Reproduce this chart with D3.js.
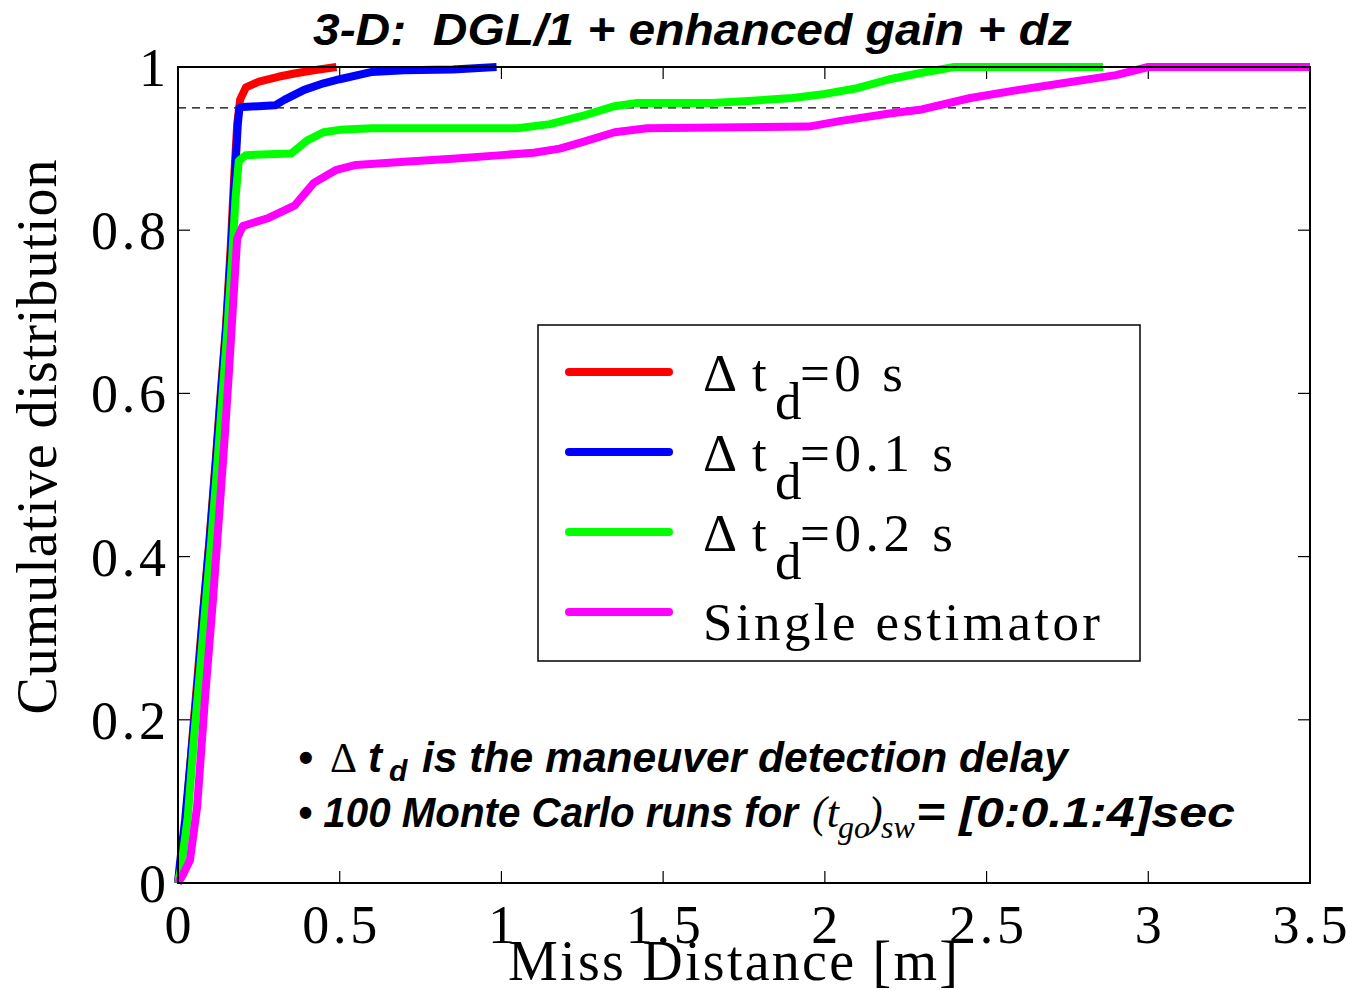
<!DOCTYPE html>
<html>
<head>
<meta charset="utf-8">
<script src="https://cdn.jsdelivr.net/npm/d3@7"></script>
<style>
  html, body { margin: 0; padding: 0; background: #fff; }
  svg { display: block; }
</style>
</head>
<body>
<div id="chart"></div>
<script>
// CDF curves: [miss distance (m), cumulative fraction]
var redData = [[0,0],[0.01,0.03],[0.025,0.08],[0.045,0.18],[0.062,0.26],[0.077,0.33],[0.097,0.42],[0.117,0.52],[0.132,0.6],[0.148,0.68],[0.163,0.78],[0.173,0.86],[0.183,0.93],[0.192,0.96],[0.21,0.975],[0.25,0.982],[0.31,0.988],[0.36,0.992],[0.42,0.996],[0.49,1]];
var blueData = [[0,0],[0.006,0.024],[0.022,0.077],[0.046,0.18],[0.062,0.25],[0.077,0.326],[0.098,0.42],[0.118,0.52],[0.133,0.6],[0.149,0.68],[0.165,0.78],[0.175,0.86],[0.185,0.93],[0.19,0.95],[0.2,0.951],[0.3,0.953],[0.33,0.96],[0.39,0.972],[0.45,0.98],[0.5,0.985],[0.6,0.994],[0.7,0.996],[0.85,0.997],[0.985,1]];
var greenData = [[0,0],[0.01,0.02],[0.03,0.08],[0.05,0.18],[0.068,0.26],[0.083,0.33],[0.103,0.42],[0.123,0.52],[0.138,0.6],[0.153,0.68],[0.168,0.77],[0.178,0.84],[0.188,0.885],[0.21,0.892],[0.35,0.894],[0.4,0.91],[0.45,0.92],[0.5,0.923],[0.6,0.925],[1.05,0.925],[1.15,0.93],[1.25,0.94],[1.35,0.952],[1.42,0.956],[1.65,0.956],[1.75,0.958],[1.9,0.962],[2.0,0.967],[2.1,0.974],[2.2,0.985],[2.3,0.993],[2.4,1],[2.86,1]];
var magentaData = [[0,0],[0.015,0.01],[0.037,0.028],[0.059,0.093],[0.083,0.224],[0.108,0.347],[0.127,0.45],[0.145,0.55],[0.158,0.63],[0.172,0.72],[0.183,0.79],[0.2,0.805],[0.28,0.815],[0.36,0.83],[0.42,0.858],[0.49,0.874],[0.55,0.88],[0.7,0.884],[0.86,0.888],[1.0,0.892],[1.1,0.895],[1.18,0.9],[1.25,0.908],[1.35,0.92],[1.45,0.925],[1.95,0.927],[2.05,0.934],[2.2,0.943],[2.3,0.948],[2.45,0.962],[2.6,0.972],[2.75,0.981],[2.9,0.99],[3.0,1],[3.5,1]];

var xTicks = [0, 0.5, 1, 1.5, 2, 2.5, 3, 3.5];
var xTickLabels = ['0', '0.5', '1', '1.5', '2', '2.5', '3', '3.5'];
var yTicks = [0, 0.2, 0.4, 0.6, 0.8, 1];
var yTickLabels = ['0', '0.2', '0.4', '0.6', '0.8', '1'];
var threshold = 0.95;

var series = [
  {name: '0',   data: redData,     color: '#ff0000'},
  {name: '0.1', data: blueData,    color: '#0000ff'},
  {name: '0.2', data: greenData,   color: '#00ff00'},
  {name: null,  data: magentaData, color: '#ff00ff'}
];

var W = 1347, H = 990;
var m = {left: 178, right: 1310, top: 67, bottom: 883};
var serif = '"Liberation Serif","Times New Roman",serif';
var sans = '"Liberation Sans",Arial,sans-serif';

var svg = d3.select('#chart').append('svg').attr('width', W).attr('height', H);

var x = d3.scaleLinear().domain([0, 3.5]).range([m.left, m.right]);
var y = d3.scaleLinear().domain([0, 1]).range([m.bottom, m.top]);

// dashed 95% line
svg.append('line')
    .attr('x1', x(0)).attr('x2', x(3.5)).attr('y1', y(threshold)).attr('y2', y(threshold))
    .attr('stroke', '#000').attr('stroke-width', 1.2).attr('stroke-dasharray', '8,6');

// ticks (inward on all sides, matlab box)
var tickLen = 12;
var axG = svg.append('g').attr('stroke', '#000').attr('stroke-width', 1.2);
xTicks.forEach(function(t){
    axG.append('line').attr('x1', x(t)).attr('x2', x(t)).attr('y1', m.bottom).attr('y2', m.bottom - tickLen);
    axG.append('line').attr('x1', x(t)).attr('x2', x(t)).attr('y1', m.top).attr('y2', m.top + tickLen);
});
yTicks.forEach(function(t){
    axG.append('line').attr('x1', m.left).attr('x2', m.left + tickLen).attr('y1', y(t)).attr('y2', y(t));
    axG.append('line').attr('x1', m.right).attr('x2', m.right - tickLen).attr('y1', y(t)).attr('y2', y(t));
});

// curves
var line = d3.line().x(function(d){ return x(d[0]); }).y(function(d){ return y(d[1]); });
svg.append('g').selectAll('path').data(series).join('path')
    .attr('d', function(d){ return line(d.data); })
    .attr('fill', 'none').attr('stroke', function(d){ return d.color; })
    .attr('stroke-width', 8).attr('stroke-linejoin', 'round').attr('stroke-linecap', 'butt');

// box
svg.append('rect').attr('x', m.left).attr('y', m.top)
    .attr('width', m.right - m.left).attr('height', m.bottom - m.top)
    .attr('fill', 'none').attr('stroke', '#000').attr('stroke-width', 2);

// tick labels (wide-spaced serif like the source export)
svg.append('g').selectAll('text').data(xTicks).join('text')
    .attr('x', function(d){ return x(d); }).attr('y', 943)
    .attr('text-anchor', 'middle').attr('font-family', serif).attr('font-size', 54)
    .attr('textLength', function(d, i){ return xTickLabels[i].length > 1 ? 75 : null; })
    .text(function(d, i){ return xTickLabels[i]; });
svg.append('g').selectAll('text').data(yTicks).join('text')
    .attr('x', 166).attr('y', function(d){ return y(d) + 19; })
    .attr('text-anchor', 'end').attr('font-family', serif).attr('font-size', 54)
    .attr('textLength', function(d, i){ return yTickLabels[i].length > 1 ? 75 : null; })
    .text(function(d, i){ return yTickLabels[i]; });

// axis titles
svg.append('text').attr('x', 733).attr('y', 980).attr('text-anchor', 'middle')
    .attr('font-family', serif).attr('font-size', 56).attr('textLength', 450)
    .text('Miss Distance [m]');
svg.append('text').attr('transform', 'translate(56,437) rotate(-90)').attr('text-anchor', 'middle')
    .attr('font-family', serif).attr('font-size', 56).attr('textLength', 555)
    .text('Cumulative distribution');

// title
svg.append('text').attr('x', 313).attr('y', 45)
    .attr('font-family', sans).attr('font-size', 45).attr('font-weight', 'bold').attr('font-style', 'italic')
    .attr('textLength', 759).attr('lengthAdjust', 'spacingAndGlyphs')
    .attr('xml:space', 'preserve')
    .text('3-D:  DGL/1 + enhanced gain + dz');

// legend
var lg = svg.append('g');
lg.append('rect').attr('x', 538).attr('y', 325).attr('width', 602).attr('height', 336)
    .attr('fill', '#fff').attr('stroke', '#000').attr('stroke-width', 1.5);
series.forEach(function(s, i){
    var ly = 372 + i * 80;
    lg.append('line').attr('x1', 569).attr('x2', 669).attr('y1', ly).attr('y2', ly)
        .attr('stroke', s.color).attr('stroke-width', 8).attr('stroke-linecap', 'round');
    var g = lg.append('g').attr('font-family', serif).attr('font-size', 53);
    if (s.name === null) {
        g.append('text').attr('x', 703).attr('y', ly + 28).attr('textLength', 397).text('Single estimator');
    } else {
        g.append('text').attr('x', 703).attr('y', ly + 19).text('\u0394');
        g.append('text').attr('x', 752).attr('y', ly + 19).text('t');
        g.append('text').attr('x', 775).attr('y', ly + 47).text('d');
        var tail = '=' + s.name + ' s';
        g.append('text').attr('x', 800).attr('y', ly + 19)
            .attr('textLength', s.name.length > 1 ? 153 : 103).text(tail);
    }
});

// notes
var notes = svg.append('g').attr('font-family', sans).attr('font-size', 42)
    .attr('font-weight', 'bold').attr('font-style', 'italic');
notes.append('text').attr('x', 298).attr('y', 772).text('\u2022');
notes.append('text').attr('x', 330).attr('y', 772).attr('font-family', serif)
    .attr('font-weight', 'normal').attr('font-style', 'normal').text('\u0394');
notes.append('text').attr('x', 368).attr('y', 772).text('t');
notes.append('text').attr('x', 389).attr('y', 781).attr('font-size', 30).text('d');
notes.append('text').attr('x', 422).attr('y', 772).attr('textLength', 646)
    .attr('lengthAdjust', 'spacingAndGlyphs')
    .text('is the maneuver detection delay');

notes.append('text').attr('x', 298).attr('y', 827).attr('textLength', 500)
    .attr('lengthAdjust', 'spacingAndGlyphs')
    .text('\u2022 100 Monte Carlo runs for');
var tg = notes.append('g').attr('font-family', serif).attr('font-weight', 'normal');
tg.append('text').attr('x', 812).attr('y', 827).attr('font-size', 44).text('(t');
tg.append('text').attr('x', 838).attr('y', 838).attr('font-size', 32).text('go');
tg.append('text').attr('x', 868).attr('y', 827).attr('font-size', 44).text(')');
tg.append('text').attr('x', 881).attr('y', 838).attr('font-size', 32).text('sw');
notes.append('text').attr('x', 916).attr('y', 827).attr('textLength', 319)
    .attr('lengthAdjust', 'spacingAndGlyphs')
    .text('= [0:0.1:4]sec');
</script>
</body>
</html>
